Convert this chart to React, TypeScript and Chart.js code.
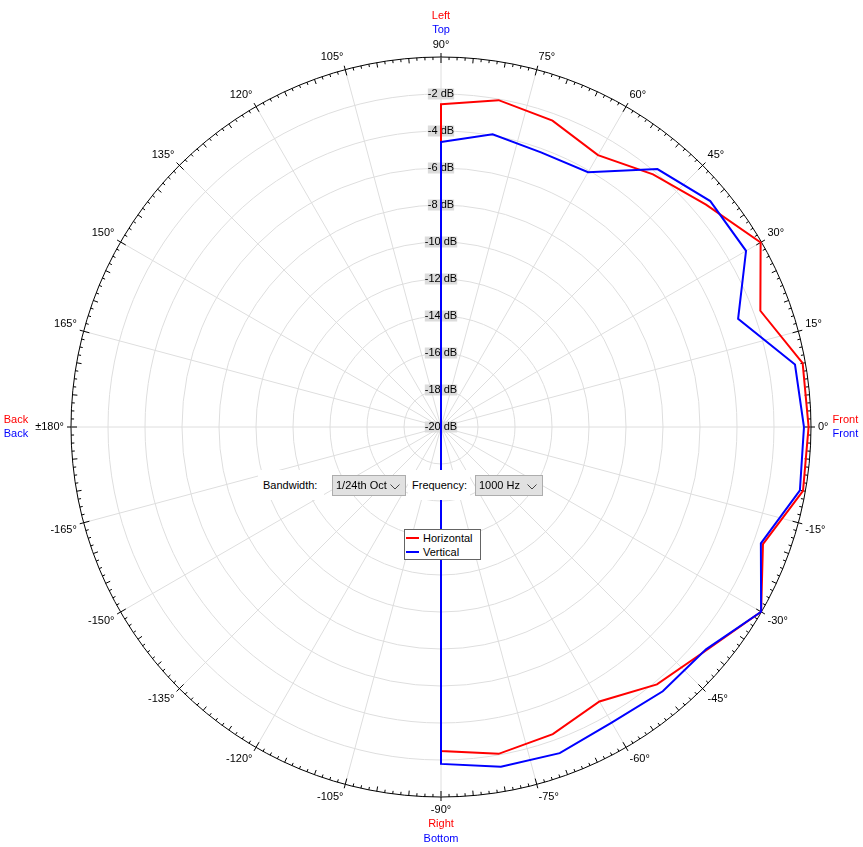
import React, { useEffect, useRef } from 'react';
import { Chart, registerables } from 'chart.js';

Chart.register(...registerables);

const FONT_FAMILY = '"Liberation Sans", Arial, sans-serif';

// Measurement angles (degrees, counter-clockwise from "Front"), in drawing order
const measuredAngles = [
  90, 80, 70, 60, 50, 40, 30, 20, 10, 0, -10, -20, -30, -40, -50, -60, -70, -80, -90,
  -100, -110, -120, -130, -140, -150, -160, -170, 180, 170, 160, 150, 140, 130, 120, 110, 100,
];

// Horizontal (red) response in dB
const horizontalDb = [
  -2.55, -2.06, -2.38, -3.03, -2.17, -1.3, -0.05, -1.63, -0.15, -0.13, -0.13, -1.48, -0.02, -1.25, -1.84, -2.87, -2.33, -2.06, -2.49,
  -20, -20, -20, -20, -20, -20, -20, -20, -20, -20, -20, -20, -20, -20, -20, -20, -20,
];

// Vertical (blue) response in dB
const verticalDb = [
  -4.6, -3.93, -4.2, -4.1, -1.8, -1.0, -0.96, -2.91, -0.57, -0.38, -0.3, -1.6, -0.02, -1.3, -1.35, -1.55, -1.24, -1.35, -1.79,
  -20, -20, -20, -20, -20, -20, -20, -20, -20, -20, -20, -20, -20, -20, -20, -20, -20,
];

const seriesNames = ['Horizontal', 'Vertical'];
const seriesColors = ['#ff0000', '#0000ff'];

// Spoke labels every 15°, clockwise from the top
const spokeLabels = [
  '90°', '75°', '60°', '45°', '30°', '15°', '0°', '-15°', '-30°', '-45°', '-60°', '-75°',
  '-90°', '-105°', '-120°', '-135°', '-150°', '-165°', '±180°', '165°', '150°', '135°', '120°', '105°',
];

// Direction captions [horizontal, vertical]
const topCaptions = ['Left', 'Top'];
const rightCaptions = ['Front', 'Front'];
const bottomCaptions = ['Right', 'Bottom'];
const leftCaptions = ['Back', 'Back'];

const dbMin = -20;
const dbMax = 0;
const dbStep = 2;
const angleStep = 5; // angular resolution of the radial scale (degrees per category)

const bandwidthChoice = '1/24th Oct';
const frequencyChoice = '1000 Hz';

const norm = (a: number) => ((((a + 180) % 360) + 360) % 360) - 180;

const categoryCount = 360 / angleStep;
const categoryAngles = Array.from({ length: categoryCount }, (_, i) => norm(90 - i * angleStep));
const radarLabels = categoryAngles.map((_, i) => (i % 3 === 0 ? spokeLabels[i / 3] : ''));

function toCategoryData(values: number[]) {
  return categoryAngles.map((a) => {
    const k = measuredAngles.findIndex((m) => norm(m) === a);
    return k >= 0 ? values[k] : null;
  });
}

const decorPlugin = {
  id: 'polarDecor',
  beforeDatasetsDraw(chart: any) {
    const s = chart.scales.r;
    const ctx = chart.ctx;
    const R = s.drawingArea;
    ctx.save();
    ctx.strokeStyle = '#000';
    ctx.lineWidth = 1;
    const sub = 4; // ticks every 1.25°
    for (let k = 0; k < categoryCount * sub; k++) {
      const deg = (k * angleStep) / sub;
      let r0 = R;
      let r1 = R - 3;
      if (deg % 15 === 0) {
        r0 = R + 4;
        r1 = R - 6;
      } else if (deg % 5 === 0) {
        r1 = R - 5;
      }
      const a = s.getPointPosition(k / sub, r0);
      const b = s.getPointPosition(k / sub, r1);
      ctx.beginPath();
      ctx.moveTo(a.x, a.y);
      ctx.lineTo(b.x, b.y);
      ctx.stroke();
    }
    ctx.restore();
  },
  afterDraw(chart: any) {
    const s = chart.scales.r;
    const ctx = chart.ctx;
    const R = s.drawingArea;
    ctx.save();
    ctx.font = `11px ${FONT_FAMILY}`;
    const lh = 14.5;
    for (let i = 0; i < categoryCount; i += 3) {
      const text = radarLabels[i];
      const a = categoryAngles[i];
      const p = s.getPointPosition(i, R + 7);
      let align: CanvasTextAlign = 'center';
      if (a === 90 || a === -90) align = 'center';
      else if (Math.abs(a) < 90) align = 'left';
      else align = 'right';
      let base: CanvasTextBaseline = 'middle';
      if (a === 0 || a === -180) base = 'middle';
      else if (a > 0) base = 'bottom';
      else base = 'top';
      ctx.textAlign = align;
      ctx.textBaseline = base;
      ctx.fillStyle = '#000';
      ctx.fillText(text, p.x, p.y);
      const w = ctx.measureText(text).width;
      if (a === 90) {
        ctx.fillStyle = seriesColors[1];
        ctx.fillText(topCaptions[1], p.x, p.y - lh);
        ctx.fillStyle = seriesColors[0];
        ctx.fillText(topCaptions[0], p.x, p.y - 2 * lh);
      } else if (a === -90) {
        ctx.fillStyle = seriesColors[0];
        ctx.fillText(bottomCaptions[0], p.x, p.y + lh);
        ctx.fillStyle = seriesColors[1];
        ctx.fillText(bottomCaptions[1], p.x, p.y + 2 * lh);
      } else if (a === 0) {
        ctx.textAlign = 'left';
        ctx.fillStyle = seriesColors[0];
        ctx.fillText(rightCaptions[0], p.x + w + 4, p.y - 7);
        ctx.fillStyle = seriesColors[1];
        ctx.fillText(rightCaptions[1], p.x + w + 4, p.y + 7);
      } else if (a === -180) {
        ctx.textAlign = 'right';
        ctx.fillStyle = seriesColors[0];
        ctx.fillText(leftCaptions[0], p.x - w - 7, p.y - 7);
        ctx.fillStyle = seriesColors[1];
        ctx.fillText(leftCaptions[1], p.x - w - 7, p.y + 7);
      }
    }
    ctx.restore();
  },
};

function Chevron() {
  return (
    <svg width="10" height="6" style={{ position: 'absolute', right: 5, top: 8 }}>
      <polyline points="0.5,0.5 5,5 9.5,0.5" fill="none" stroke="#444" strokeWidth="1" />
    </svg>
  );
}

export default function App() {
  const ref = useRef<HTMLCanvasElement>(null);

  useEffect(() => {
    const canvas = ref.current!;
    const chart = new Chart(canvas, {
      type: 'radar',
      data: {
        labels: radarLabels,
        datasets: [
          {
            label: seriesNames[0],
            data: toCategoryData(horizontalDb),
            borderColor: seriesColors[0],
            backgroundColor: seriesColors[0],
            borderWidth: 2,
            pointRadius: 0,
            fill: false,
            spanGaps: true,
            order: 1,
          },
          {
            label: seriesNames[1],
            data: toCategoryData(verticalDb),
            borderColor: seriesColors[1],
            backgroundColor: seriesColors[1],
            borderWidth: 2,
            pointRadius: 0,
            fill: false,
            spanGaps: true,
            order: 0,
          },
        ],
      },
      options: {
        animation: false,
        responsive: false,
        maintainAspectRatio: false,
        layout: { padding: { left: 65, right: 46, top: 48.5, bottom: 40 } },
        elements: { line: { tension: 0 } },
        plugins: { legend: { display: false }, tooltip: { enabled: false }, title: { display: false } },
        scales: {
          r: {
            min: dbMin,
            max: dbMax,
            startAngle: 0,
            beginAtZero: false,
            ticks: {
              stepSize: dbStep,
              color: '#000',
              font: { family: FONT_FAMILY, size: 11 },
              callback: (v: any) => (v === 0 ? '' : `${v} dB`),
              showLabelBackdrop: true,
              backdropColor: (c: any) => (c.tick && c.tick.value === 0 ? 'rgba(0,0,0,0)' : '#dcdcdc'),
              backdropPadding: (c: any) =>
                c && c.tick && c.tick.label ? { x: String(c.tick.label).length > 5 ? 2.5 : 5.5, y: 1 } : { x: 4, y: 1 },
              z: 0,
            },
            grid: {
              circular: true,
              color: (c: any) => (c.tick && c.tick.value === 0 ? '#000' : '#dedede'),
              lineWidth: 1,
            },
            angleLines: {
              display: true,
              color: (c: any) => (c.index % 3 === 0 ? '#dedede' : 'rgba(0,0,0,0)'),
              lineWidth: (c: any) => (c.index % 3 === 0 ? 1 : 0),
            },
            pointLabels: { display: false },
          },
        },
      },
      plugins: [decorPlugin],
    } as any);
    return () => chart.destroy();
  }, []);

  const labelStyle: React.CSSProperties = {
    position: 'absolute',
    top: 470,
    height: 30,
    lineHeight: '30px',
    background: '#fff',
    color: '#000',
    whiteSpace: 'nowrap',
  };
  const comboStyle: React.CSSProperties = {
    position: 'absolute',
    top: 475,
    height: 19,
    lineHeight: '19px',
    background: '#e1e1e1',
    border: '1px solid #adadad',
    color: '#000',
    whiteSpace: 'nowrap',
    overflow: 'hidden',
  };

  return (
    <div
      style={{
        position: 'fixed',
        left: 0,
        top: 0,
        width: 863,
        height: 847,
        background: '#fff',
        fontFamily: FONT_FAMILY,
        fontSize: 11,
        overflow: 'hidden',
      }}
    >
      <canvas ref={ref} width={863} height={847} style={{ position: 'absolute', left: 0, top: 0, width: 863, height: 847 }} />
      <div style={{ ...labelStyle, left: 258, width: 66, paddingLeft: 5, boxSizing: 'border-box' }}>Bandwidth:</div>
      <div style={{ ...comboStyle, left: 332, width: 72 }}>
        <span style={{ position: 'absolute', left: 3 }}>{bandwidthChoice}</span>
        <Chevron />
      </div>
      <div style={{ ...labelStyle, left: 408, width: 62, paddingLeft: 4, boxSizing: 'border-box' }}>Frequency:</div>
      <div style={{ ...comboStyle, left: 475, width: 66 }}>
        <span style={{ position: 'absolute', left: 3 }}>{frequencyChoice}</span>
        <Chevron />
      </div>
      <div
        style={{
          position: 'absolute',
          left: 404,
          top: 529,
          width: 75,
          height: 29,
          border: '1px solid #646464',
          background: '#fff',
        }}
      >
        {seriesNames.map((name, i) => (
          <div key={name} style={{ position: 'absolute', left: 1, top: 1 + i * 14, height: 14, lineHeight: '14px', whiteSpace: 'nowrap' }}>
            <span
              style={{
                display: 'inline-block',
                width: 13,
                height: 2,
                background: seriesColors[i],
                verticalAlign: 'middle',
                marginRight: 4,
                position: 'relative',
                top: -1,
              }}
            />
            <span style={{ color: '#000' }}>{name}</span>
          </div>
        ))}
      </div>
    </div>
  );
}
